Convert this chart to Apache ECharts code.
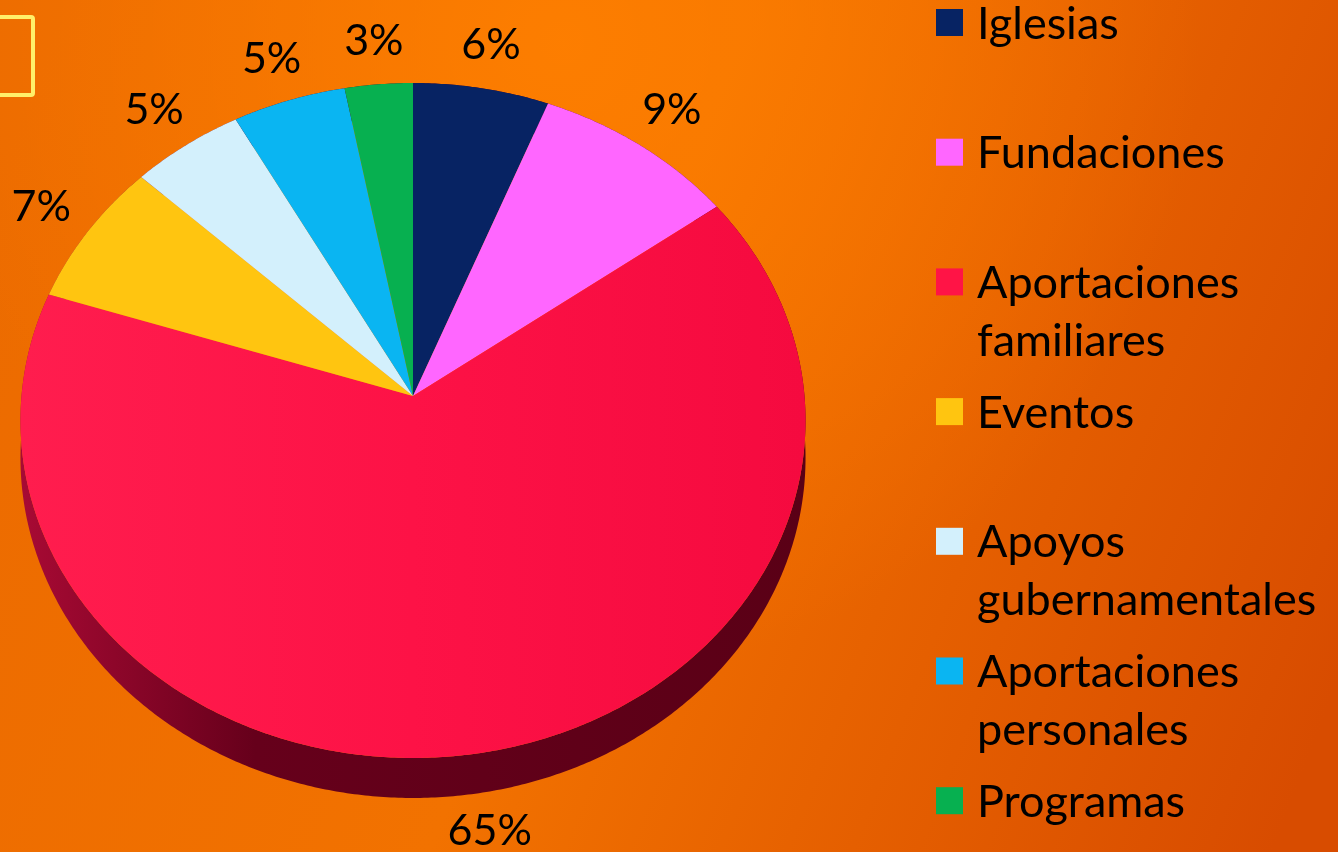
<!DOCTYPE html>
<html>
<head>
<meta charset="utf-8">
<script src="https://cdn.jsdelivr.net/npm/echarts@6/dist/echarts.min.js"></script>
<style>
html,body{margin:0;padding:0;width:1338px;height:852px;overflow:hidden;background:#ef6e00;}
#chart{width:1338px;height:852px;}
</style>
</head>
<body>
<div id="chart"></div>
<script>
// ---- data ----
const categories = ['Iglesias', 'Fundaciones', 'Aportaciones familiares', 'Eventos', 'Apoyos gubernamentales', 'Aportaciones personales', 'Programas'];
const values = [6, 9, 65, 7, 5, 5, 3];
const colors = ['#072363', '#ff66ff', '#ff1446', '#ffc510', '#d3f0fc', '#0ab5f2', '#07b050'];

// ---- layout / style (not data) ----
const FONT = 'Lato, "Open Sans", sans-serif';
const P = { cx: 413, cy: 396, A: 391.5, B: 335.7, p: 0.0726, D: 37.1 };
const total = values.reduce((s, v) => s + v, 0);
const starts = [];
values.reduce((acc, v, i) => { starts[i] = acc; return acc + v; }, 0);

function proj(aDeg, k) {
  const a = aDeg * Math.PI / 180;
  const X = Math.sin(a) * k, Z = Math.cos(a) * k;
  const w = 1 + P.p * Z;
  return [P.cx + P.A * X / w, P.cy - P.B * Z / w, w, Z];
}
function arc(a0, a1) {
  const pts = [];
  const n = Math.max(2, Math.ceil((a1 - a0) / 0.5));
  for (let i = 0; i <= n; i++) {
    const q = proj(a0 + (a1 - a0) * i / n, 1);
    pts.push([q[0], q[1], q[2]]);
  }
  return pts;
}

const redGrad = { type: 'linear', x: 20, y: 0, x2: 805, y2: 0, global: true,
  colorStops: [{ offset: 0, color: '#ff1d4e' }, { offset: 0.5, color: '#fd1246' }, { offset: 1, color: '#f50a3f' }] };
const sideGrad = { type: 'linear', x: 20, y: 0, x2: 805, y2: 0, global: true,
  colorStops: [{ offset: 0, color: '#a80a34' }, { offset: 0.3, color: '#66001b' }, { offset: 1, color: '#5a0016' }] };

function sliceColor(i) { return i === 2 ? redGrad : colors[i]; }

const seriesData = values.map((v, i) => ({ name: categories[i], value: [v, starts[i]] }));

const option = {
  backgroundColor: {
    type: 'linear', x: 0, y: 0.2, x2: 1, y2: 0.8,
    colorStops: [{ offset: 0, color: '#ec6b00' }, { offset: 0.45, color: '#f27200' }, { offset: 1, color: '#d84c00' }]
  },
  animation: false,
  graphic: [
    { type: 'rect', z: -10, silent: true, shape: { x: 0, y: 0, width: 1338, height: 852 },
      style: { fill: { type: 'radial', x: 0.42, y: 0.05, r: 0.75,
        colorStops: [{ offset: 0, color: 'rgba(255,128,0,0.85)' }, { offset: 1, color: 'rgba(255,128,0,0)' }] } } },
    { type: 'rect', z: 5, silent: true, shape: { x: -10, y: 17, width: 43, height: 78, r: 2 },
      style: { fill: 'none', stroke: '#fff06a', lineWidth: 4 } }
  ].concat(categories.map((name, i) => ({
    type: 'group', x: 936, y: 9 + 129.7 * i, z: 5,
    children: [
      { type: 'rect', shape: { x: 0, y: 0, width: 27, height: 27 }, style: { fill: colors[i] } },
      { type: 'text', x: 41, y: -14,
        style: { text: name, font: '45px ' + FONT, fill: '#000', lineHeight: 58,
          width: 360, overflow: 'break', verticalAlign: 'top', align: 'left' } }
    ]
  }))),
  series: [
    {
      type: 'custom', coordinateSystem: 'none', z: 2, silent: true,
      data: seriesData,
      renderItem: function (params, api) {
        const v = api.value(0), s = api.value(1);
        const a0 = s / total * 360, a1 = (s + v) / total * 360;
        const top = arc(a0, a1);
        const bottom = top.map(q => [q[0], q[1] + P.D / q[2]]).reverse();
        const pts = top.map(q => [q[0], q[1]]).concat(bottom);
        return { type: 'polygon', shape: { points: pts }, style: { fill: sideGrad } };
      }
    },
    {
      type: 'custom', coordinateSystem: 'none', z: 3, silent: true,
      data: seriesData,
      renderItem: function (params, api) {
        const i = params.dataIndex;
        const v = api.value(0), s = api.value(1);
        const a0 = s / total * 360, a1 = (s + v) / total * 360;
        const pts = [[P.cx, P.cy]].concat(arc(a0, a1).map(q => [q[0], q[1]]));
        const lp = proj((a0 + a1) / 2, 1.15);
        let ly = lp[1];
        if (lp[3] < 0) ly += 0.5 * P.D * (-lp[3] / 1.15) / lp[2];
        return {
          type: 'group',
          children: [
            { type: 'polygon', shape: { points: pts }, style: { fill: sliceColor(i) } },
            { type: 'text', z2: 10, x: lp[0], y: ly,
              style: { text: Math.round(v / total * 100) + '%', font: '43px ' + FONT, fill: '#000',
                align: 'center', verticalAlign: 'middle' } }
          ]
        };
      }
    }
  ]
};

const chart = echarts.init(document.getElementById('chart'), null, { renderer: 'canvas' });
chart.setOption(option);
</script>
</body>
</html>
